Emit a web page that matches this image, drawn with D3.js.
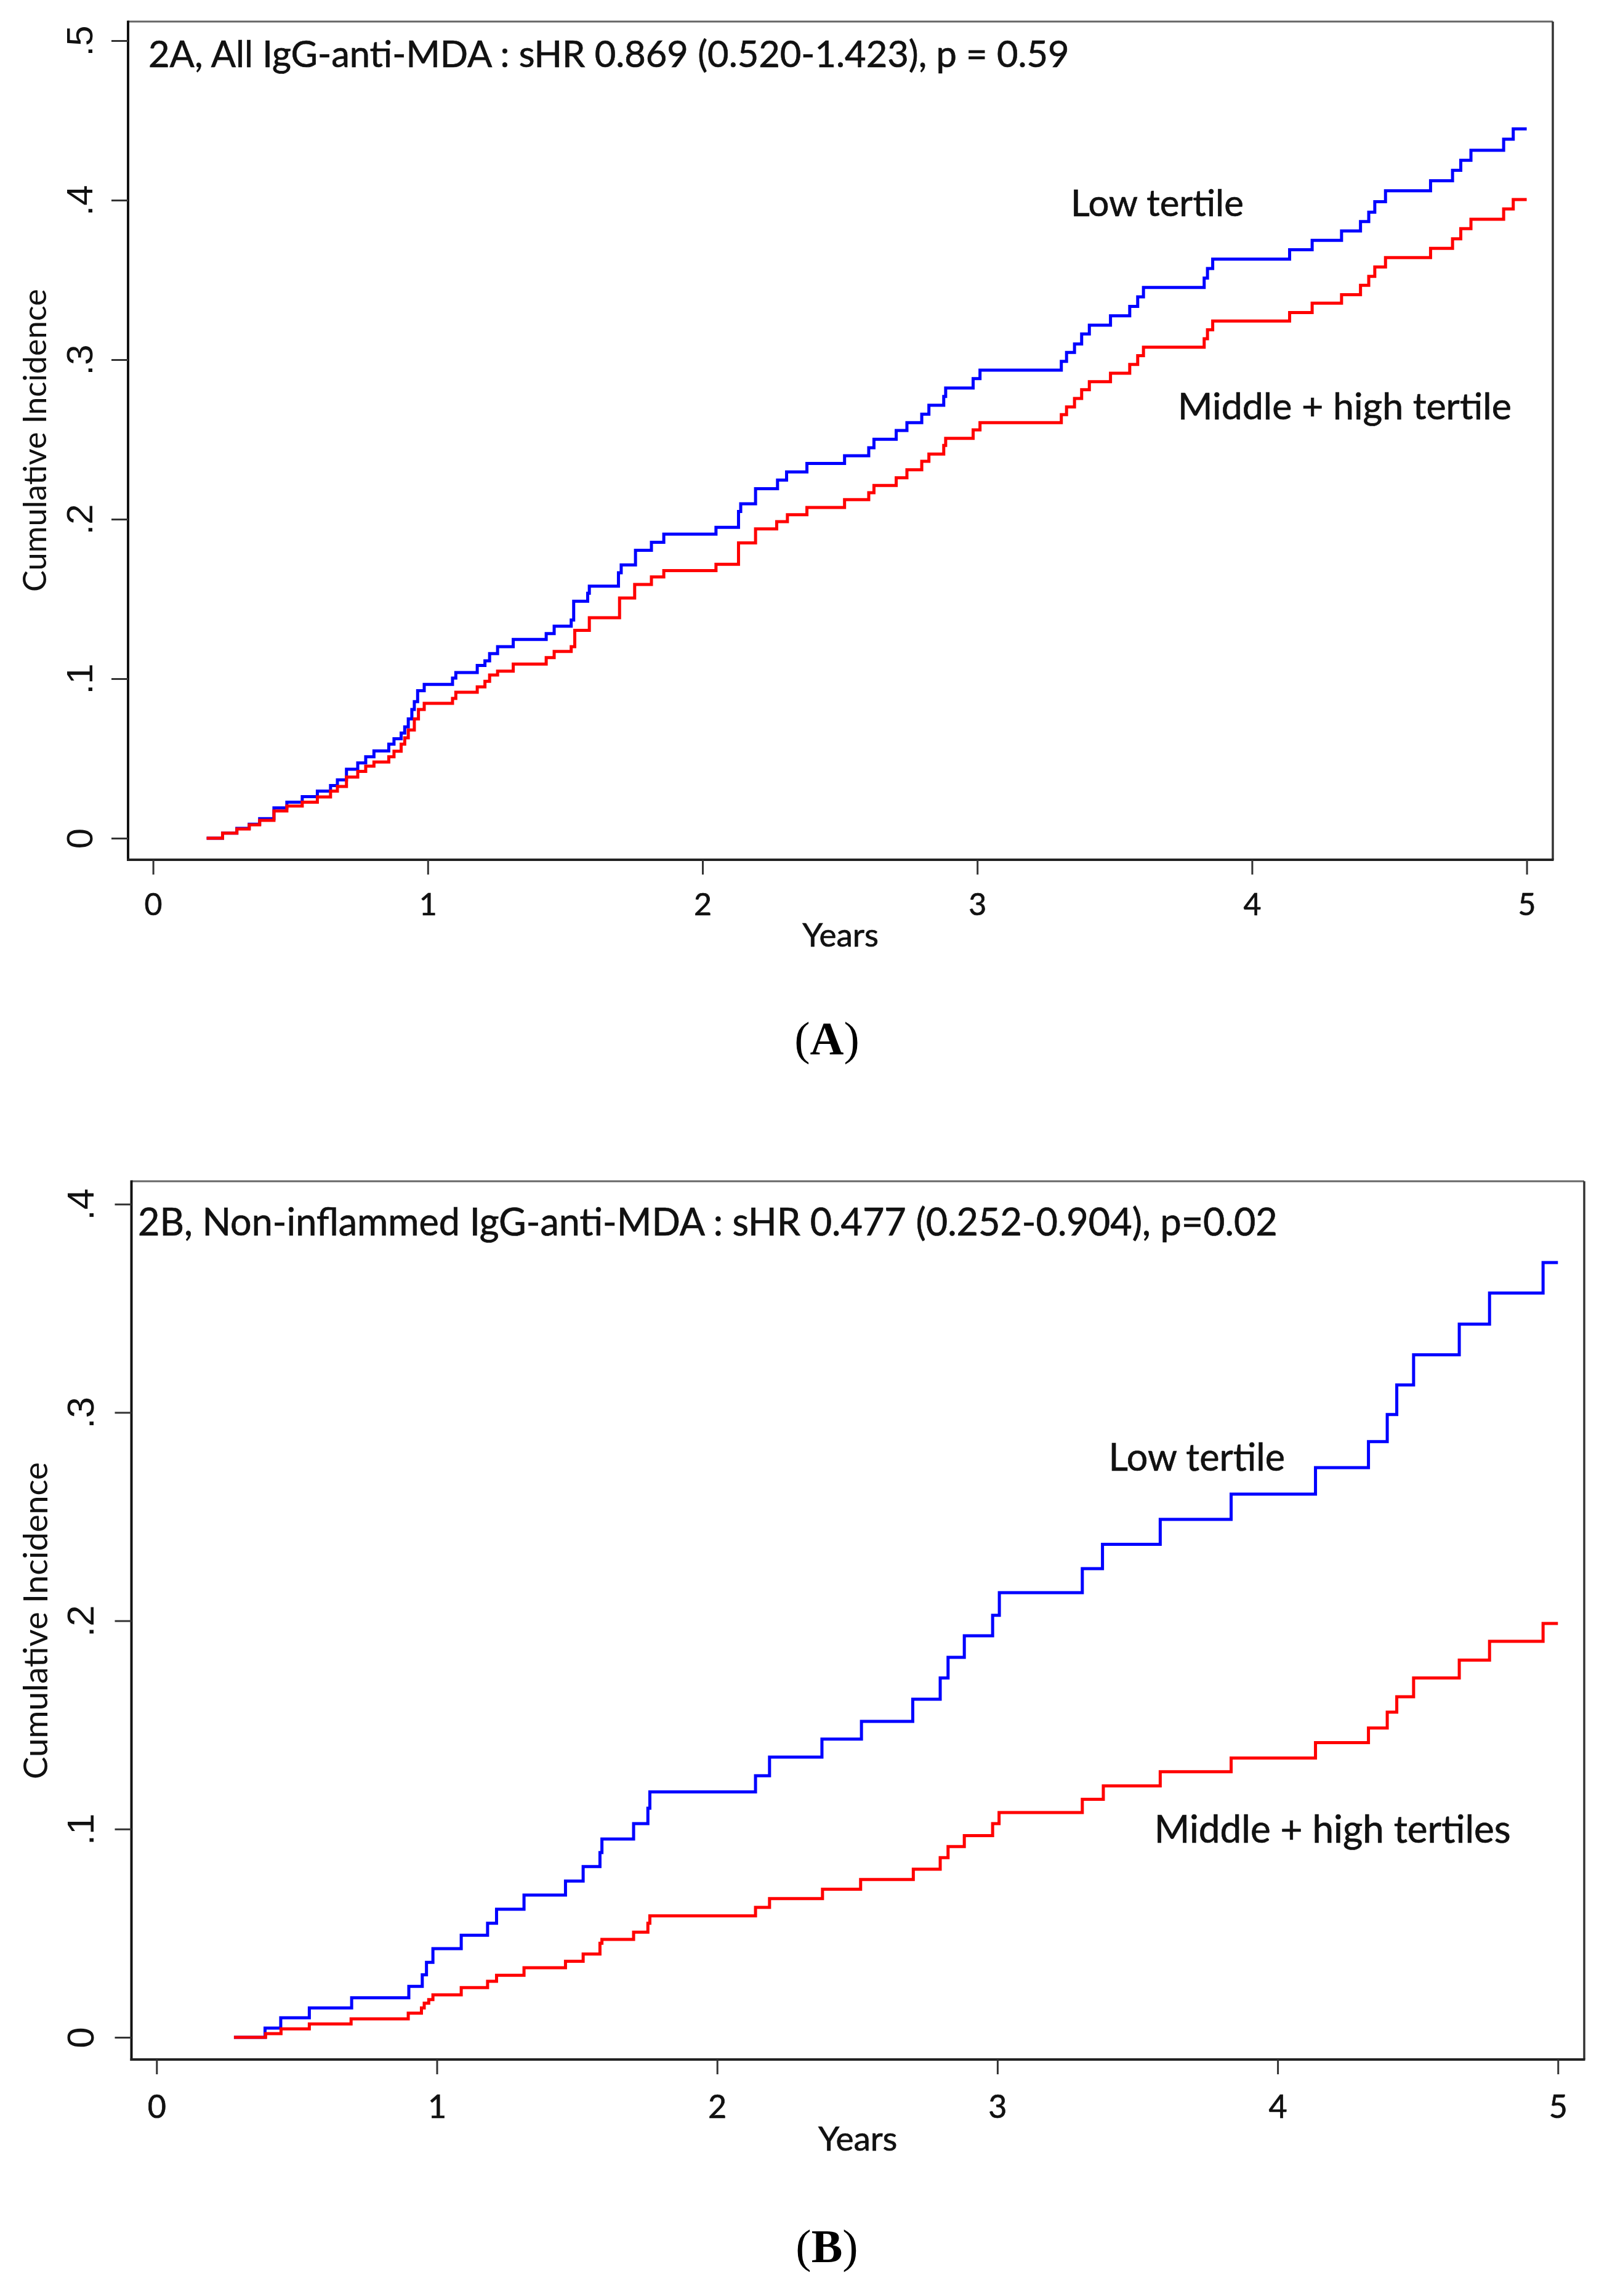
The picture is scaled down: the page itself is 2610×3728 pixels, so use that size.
<!DOCTYPE html>
<html><head><meta charset="utf-8">
<script src="https://cdn.jsdelivr.net/npm/d3@7"></script>
<style>body{margin:0;background:#fff}</style>
</head><body><svg id="c"></svg>
<script>
// ---------------- DATA ----------------
const yearTicks = [0, 1, 2, 3, 4, 5];
const aYTicks = [0, 0.1, 0.2, 0.3, 0.4, 0.5];
const bYTicks = [0, 0.1, 0.2, 0.3, 0.4];

// Panel A – Low tertile (blue)
const aLowT = [0.195,0.253,0.305,0.350,0.388,0.440,0.487,0.543,0.598,0.646,0.671,0.704,0.745,0.774,0.804,0.858,0.877,0.903,0.916,0.929,0.942,0.951,0.963,0.987,1.090,1.102,1.180,1.208,1.225,1.254,1.311,1.431,1.460,1.522,1.531,1.582,1.588,1.694,1.704,1.756,1.814,1.859,2.049,2.131,2.139,2.193,2.273,2.306,2.380,2.517,2.605,2.624,2.705,2.744,2.798,2.824,2.878,2.885,2.985,3.010,3.306,3.325,3.354,3.380,3.408,3.485,3.555,3.584,3.605,3.826,3.838,3.857,4.137,4.219,4.326,4.395,4.425,4.447,4.486,4.650,4.730,4.760,4.797,4.916,4.951,5.000];
const aLowV = [0,0.0032,0.0062,0.0088,0.0123,0.0190,0.0226,0.0261,0.0295,0.0330,0.0366,0.0432,0.0472,0.0511,0.0547,0.0590,0.0624,0.0659,0.0698,0.0748,0.0807,0.0856,0.0925,0.0964,0.1004,0.1039,0.1083,0.1112,0.1157,0.1201,0.1246,0.1283,0.1329,0.1368,0.1486,0.1536,0.1580,0.1664,0.1713,0.1805,0.1855,0.1906,0.1949,0.2048,0.2097,0.2191,0.2245,0.2296,0.2349,0.2398,0.2448,0.2501,0.2556,0.2605,0.2658,0.2714,0.2769,0.2822,0.2881,0.2934,0.2989,0.3045,0.3098,0.3161,0.3216,0.3275,0.3334,0.3394,0.3453,0.3512,0.3571,0.3630,0.3689,0.3748,0.3807,0.3866,0.3925,0.3990,0.4059,0.4122,0.4187,0.4250,0.4313,0.4382,0.4447,0.4447];

// Panel A – Middle + high tertile (red)
const aMidT = [0.195,0.253,0.305,0.350,0.388,0.440,0.487,0.543,0.598,0.646,0.671,0.704,0.745,0.774,0.804,0.858,0.877,0.903,0.916,0.929,0.951,0.966,0.987,1.090,1.102,1.180,1.208,1.225,1.254,1.311,1.431,1.460,1.522,1.535,1.588,1.698,1.753,1.814,1.859,2.049,2.131,2.193,2.270,2.309,2.380,2.517,2.605,2.624,2.705,2.744,2.798,2.824,2.878,2.885,2.985,3.010,3.306,3.325,3.354,3.380,3.408,3.485,3.555,3.584,3.605,3.826,3.838,3.857,4.137,4.219,4.326,4.395,4.425,4.447,4.486,4.650,4.730,4.760,4.797,4.916,4.951,5.000];
const aMidV = [0,0.0032,0.0058,0.0084,0.0112,0.0171,0.0202,0.0226,0.0259,0.0295,0.0324,0.0383,0.0419,0.0452,0.0478,0.0511,0.0545,0.0590,0.0629,0.0679,0.0748,0.0807,0.0846,0.0876,0.0915,0.0949,0.0984,0.1023,0.1047,0.1092,0.1132,0.1171,0.1201,0.1303,0.1382,0.1506,0.1591,0.1638,0.1678,0.1717,0.1851,0.1939,0.1985,0.2028,0.2073,0.2123,0.2166,0.2211,0.2260,0.2310,0.2363,0.2408,0.2462,0.2507,0.2560,0.2605,0.2655,0.2704,0.2757,0.2812,0.2862,0.2915,0.2970,0.3025,0.3078,0.3131,0.3187,0.3242,0.3295,0.3354,0.3407,0.3466,0.3522,0.3581,0.3640,0.3698,0.3758,0.3821,0.3880,0.3945,0.4004,0.4004];

// Panel B – Low tertile (blue)
const bLowT = [0.276,0.387,0.443,0.545,0.696,0.900,0.948,0.963,0.986,1.087,1.181,1.213,1.311,1.459,1.522,1.582,1.589,1.702,1.753,1.760,2.137,2.187,2.374,2.515,2.698,2.796,2.824,2.882,2.983,3.007,3.303,3.375,3.581,3.834,4.135,4.324,4.391,4.425,4.485,4.648,4.756,4.947,5.000];
const bLowV = [0,0.0044,0.0094,0.0141,0.0190,0.0245,0.0300,0.0360,0.0426,0.0490,0.0548,0.0615,0.0683,0.0750,0.0820,0.0887,0.0952,0.1026,0.1100,0.1178,0.1256,0.1345,0.1432,0.1517,0.1623,0.1725,0.1824,0.1928,0.2026,0.2135,0.2250,0.2367,0.2487,0.2608,0.2735,0.2860,0.2990,0.3132,0.3277,0.3424,0.3573,0.3720,0.3720];

// Panel B – Middle + high tertiles (red)
const bMidT = [0.276,0.389,0.444,0.545,0.694,0.898,0.945,0.955,0.971,0.986,1.087,1.181,1.213,1.311,1.459,1.522,1.582,1.589,1.702,1.753,1.760,2.137,2.187,2.376,2.512,2.700,2.796,2.824,2.882,2.983,3.006,3.303,3.378,3.581,3.834,4.135,4.324,4.391,4.425,4.485,4.648,4.756,4.947,5.000];
const bMidV = [0,0.0018,0.0041,0.0064,0.0089,0.0116,0.0141,0.0164,0.0181,0.0204,0.0239,0.0269,0.0298,0.0334,0.0365,0.0400,0.0452,0.0470,0.0505,0.0548,0.0583,0.0624,0.0666,0.0711,0.0758,0.0807,0.0863,0.0916,0.0968,0.1026,0.1079,0.1143,0.1207,0.1275,0.1341,0.1415,0.1485,0.1561,0.1635,0.1725,0.1811,0.1901,0.1987,0.1987];

const aTitle = "2A, All IgG-anti-MDA : sHR 0.869 (0.520-1.423), p = 0.59";
const bTitle = "2B, Non-inflammed IgG-anti-MDA : sHR 0.477 (0.252-0.904), p=0.02";
const aLowLabel = "Low tertile", aMidLabel = "Middle + high tertile";
const bLowLabel = "Low tertile", bMidLabel = "Middle + high tertiles";
const yTitle = "Cumulative Incidence", xTitle = "Years";
const aPanelTag = "A", bPanelTag = "B";

// ---------------- LAYOUT ----------------
const W = 2610, H = 3728;
const svg = d3.select("#c").attr("width", W).attr("height", H)
  .style("font-family", "Lato, 'Open Sans', sans-serif");
svg.append("rect").attr("width", W).attr("height", H).attr("fill", "#fff");

const panels = [
  { frame:{l:208, r:2522, t:35, b:1396}, xr:[248.6, 2479.6], ymax:0.5, yr:[1361, 66],
    yticks:aYTicks, series:[[aLowT,aLowV,"#0000ff"],[aMidT,aMidV,"#ff0000"]],
    title:aTitle, titlePos:[241,108.7], titleW:1496,
    ann:[[aLowLabel,3.34,0.39,281],[aMidLabel,3.73,0.2625,542]],
    yLabX:150, ylabFs:60, xlabBase:1486, xlabFs:50, yearsBase:1537, yearsFs:53,
    ytitleX:75, ytitleStart:961, ytitleW:492,
    tag:aPanelTag, tagBase:1712 },
  { frame:{l:213.5, r:2573, t:1918, b:3344}, xr:[254.3, 2530.3], ymax:0.4, yr:[3308, 1955.2],
    yticks:bYTicks, series:[[bLowT,bLowV,"#0000ff"],[bMidT,bMidV,"#ff0000"]],
    title:bTitle, titlePos:[224,2006], titleW:1851,
    ann:[[bLowLabel,3.397,0.272,286.5],[bMidLabel,3.56,0.0934,579]],
    yLabX:152, ylabFs:62, xlabBase:3439, xlabFs:52, yearsBase:3492, yearsFs:55,
    ytitleX:77, ytitleStart:2889, ytitleW:515,
    tag:bPanelTag, tagBase:3673 }
];

function fit(sel, w) {
  const L = sel.node().getComputedTextLength();
  const fs = parseFloat(sel.attr("font-size"));
  sel.attr("font-size", fs * w / L);
}
// slight thickening so Lato resembles the heavier original rendering
function ink(sel) { return sel.attr("stroke", "#111").attr("stroke-width", 0.7); }

panels.forEach(p => {
  const g = svg.append("g");
  const x = d3.scaleLinear().domain([0, 5]).range(p.xr);
  const y = d3.scaleLinear().domain([0, p.ymax]).range(p.yr);
  const f = p.frame;

  // curves
  const line = d3.line().x(d => x(d[0])).y(d => y(d[1])).curve(d3.curveStepAfter);
  p.series.forEach(([T, V, col]) => {
    g.append("path").datum(T.map((t, i) => [t, V[i]]))
      .attr("d", line).attr("fill", "none").attr("stroke", col)
      .attr("stroke-width", 5).attr("stroke-linejoin", "miter");
  });

  // frame
  g.append("line").attr("x1", f.l).attr("x2", f.r).attr("y1", f.t).attr("y2", f.t).attr("stroke", "#666").attr("stroke-width", 3);
  g.append("line").attr("x1", f.r).attr("x2", f.r).attr("y1", f.t).attr("y2", f.b).attr("stroke", "#333").attr("stroke-width", 3.5);
  g.append("line").attr("x1", f.l).attr("x2", f.l).attr("y1", f.t - 1.5).attr("y2", f.b + 2).attr("stroke", "#111").attr("stroke-width", 4);
  g.append("line").attr("x1", f.l - 2).attr("x2", f.r + 1.5).attr("y1", f.b).attr("y2", f.b).attr("stroke", "#222").attr("stroke-width", 4);

  // y axis
  const ya = g.append("g").attr("transform", `translate(${f.l},0)`)
    .call(d3.axisLeft(y).tickValues(p.yticks).tickSize(27)
      .tickFormat(d => d === 0 ? "0" : d3.format(".1f")(d).replace(/^0/, "")));
  ya.select(".domain").remove();
  ya.selectAll(".tick line").attr("stroke", "#333").attr("stroke-width", 3);
  ya.selectAll(".tick text").attr("x", null).attr("dy", null).attr("y", null)
    .attr("text-anchor", "middle").attr("fill", "#111")
    .attr("font-family", "'Liberation Sans', Arial, sans-serif").attr("font-size", p.ylabFs)
    .attr("transform", `translate(${p.yLabX - f.l},0) rotate(-90)`);

  // x axis
  const xa = g.append("g").attr("transform", `translate(0,${f.b})`)
    .call(d3.axisBottom(x).tickValues(yearTicks).tickSize(24).tickFormat(d3.format("d")));
  xa.select(".domain").remove();
  xa.selectAll(".tick line").attr("stroke", "#333").attr("stroke-width", 3);
  ink(xa.selectAll(".tick text").attr("y", p.xlabBase - f.b).attr("dy", null)
    .attr("fill", "#111").attr("font-family", "Lato, sans-serif").attr("font-size", p.xlabFs));

  // axis titles
  ink(g.append("text").text(xTitle).attr("x", (f.l + f.r) / 2).attr("y", p.yearsBase)
    .attr("text-anchor", "middle").attr("font-size", p.yearsFs).attr("fill", "#111"));
  const yt = g.append("text").text(yTitle).attr("font-size", 50).attr("fill", "#111")
    .attr("transform", `translate(${p.ytitleX},${p.ytitleStart}) rotate(-90)`);
  fit(yt, p.ytitleW);

  // title
  const tt = ink(g.append("text").text(p.title).attr("x", p.titlePos[0]).attr("y", p.titlePos[1])
    .attr("font-size", 50).attr("fill", "#111"));
  fit(tt, p.titleW);

  // annotations
  p.ann.forEach(([txt, tx, vy, w]) => {
    const a = ink(g.append("text").text(txt).attr("x", x(tx)).attr("y", y(vy))
      .attr("font-size", 50).attr("fill", "#111"));
    fit(a, w);
  });

  // panel tag "(A)" / "(B)"
  const tg = g.append("text").attr("x", 1343).attr("y", p.tagBase).attr("text-anchor", "middle")
    .attr("font-family", "'Liberation Serif', 'Times New Roman', serif").attr("font-size", 76).attr("fill", "#000");
  tg.append("tspan").text("(");
  tg.append("tspan").attr("font-weight", "bold").text(p.tag);
  tg.append("tspan").text(")");
});
</script>
</body></html>
